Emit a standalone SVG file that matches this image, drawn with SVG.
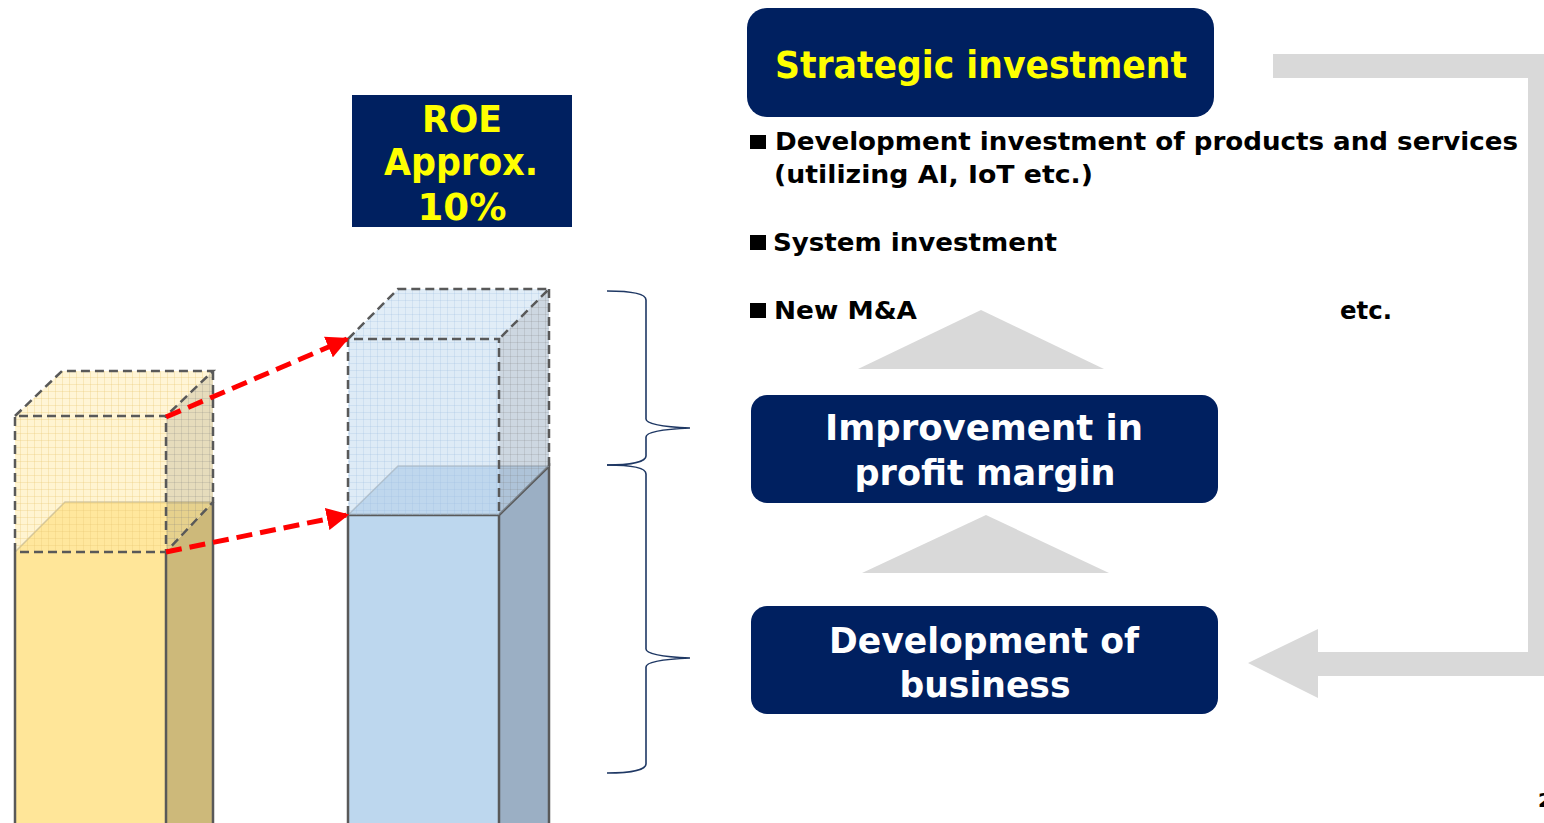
<svg xmlns="http://www.w3.org/2000/svg" width="1544" height="823" viewBox="0 0 1544 823">
<defs>
<style>
text{font-family:"DejaVu Sans","Liberation Sans",sans-serif;font-weight:bold}
.box{fill:#002060}
.yt{fill:#FFFF00;font-size:37px;text-anchor:middle}
.wt{fill:#FFFFFF;font-size:35px;text-anchor:middle}
.bt{fill:#000000;font-size:24.5px}
.grey{fill:#D9D9D9}
.edge{fill:none;stroke:#595959;stroke-width:2.5}
.dash{fill:none;stroke:#595959;stroke-width:2.5;stroke-dasharray:9 5}
.thin{fill:none;stroke:#7F7F7F;stroke-opacity:0.6;stroke-width:1.5}
.brace{fill:none;stroke:#1F3864;stroke-width:1.6}
.red{fill:none;stroke:#FF0000;stroke-width:5;stroke-dasharray:16 8}
</style>
<pattern id="gy" width="7" height="7" patternUnits="userSpaceOnUse"><path d="M6.5 0V7M0 6.5H7" stroke="#E8C870" stroke-opacity="0.3" stroke-width="1"/></pattern>
<pattern id="gb" width="7" height="7" patternUnits="userSpaceOnUse"><path d="M6.5 0V7M0 6.5H7" stroke="#9DBBE0" stroke-opacity="0.25" stroke-width="1"/></pattern>
<pattern id="gs" width="7" height="7" patternUnits="userSpaceOnUse"><path d="M6.5 0V7M0 6.5H7" stroke="#7F7F7F" stroke-opacity="0.2" stroke-width="1"/></pattern>
<marker id="ah" viewBox="0 0 10 10" refX="9" refY="5" markerWidth="4.5" markerHeight="4.5" orient="auto"><path d="M0,0 L10,5 L0,10 Z" fill="#FF0000"/></marker>
</defs>

<g id="bar-current">
<rect x="15" y="552" width="151" height="280" fill="#FFE699"/>
<polygon points="166,552 213,502 213,832 166,832" fill="#CDB97A"/>
<polygon points="15,552 65,502 213,502 166,552" fill="#FFE8A0"/>
<path class="edge" d="M15,552V823M166,552V823M213,502V823"/>
<path class="thin" d="M15,552L65,502H213"/>
<g id="ghost-current">
<rect x="15" y="416" width="151" height="136" fill="#FFE699" fill-opacity="0.45"/>
<rect x="15" y="416" width="151" height="136" fill="url(#gy)"/>
<polygon points="15,416 62,371 213,371 166,416" fill="#FFE699" fill-opacity="0.4"/>
<polygon points="15,416 62,371 213,371 166,416" fill="url(#gy)"/>
<polygon points="166,416 213,371 213,502 166,552" fill="#CDB97A" fill-opacity="0.5"/>
<polygon points="166,416 213,371 213,502 166,552" fill="url(#gs)"/>
<path class="dash" d="M15,552V416H166V552H15M15,416L62,371H213L166,416M213,371V502L166,552"/>
</g>
</g>

<g id="bar-target">
<rect x="348" y="515" width="151" height="320" fill="#BDD7EE"/>
<polygon points="499,515 549,466 549,835 499,835" fill="#9BAFC4"/>
<polygon points="348,515 398,466 549,466 499,515" fill="#C0D7EC"/>
<path class="edge" d="M348,823V515H499V823M499,515L549,466V823"/>
<path class="thin" d="M348,515L398,466H549"/>
<g id="ghost-target">
<rect x="348" y="339" width="151" height="176" fill="#BDD7EE" fill-opacity="0.5"/>
<rect x="348" y="339" width="151" height="176" fill="url(#gb)"/>
<polygon points="348,339 398,289 549,289 499,339" fill="#BDD7EE" fill-opacity="0.45"/>
<polygon points="348,339 398,289 549,289 499,339" fill="url(#gb)"/>
<polygon points="499,339 549,289 549,466 499,515" fill="#9BAFC4" fill-opacity="0.5"/>
<polygon points="499,339 549,289 549,466 499,515" fill="url(#gs)"/>
<path class="dash" d="M348,515V339H499V515M348,339L398,289H549L499,339M549,289V466"/>
</g>
</g>

<g id="roe">
<rect x="352" y="95" width="220" height="132" class="box"/>
<text class="yt" x="462" y="132" font-size="36" textLength="80" lengthAdjust="spacingAndGlyphs">ROE</text>
<text class="yt" x="461" y="175" font-size="36" textLength="154" lengthAdjust="spacingAndGlyphs">Approx.</text>
<text class="yt" x="462" y="220" font-size="36" textLength="89" lengthAdjust="spacingAndGlyphs">10%</text>
</g>

<g id="strategic">
<rect x="747" y="8" width="467" height="109" rx="20" class="box"/>
<text class="yt" x="981" y="78" textLength="412" lengthAdjust="spacingAndGlyphs">Strategic investment</text>
</g>

<g id="bullets">
<rect x="750" y="135" width="16" height="14" fill="#000"/>
<text class="bt" x="775" y="150" textLength="743" lengthAdjust="spacingAndGlyphs">Development investment of products and services</text>
<text class="bt" x="774" y="183" textLength="319" lengthAdjust="spacingAndGlyphs">(utilizing AI, IoT etc.)</text>
<rect x="750" y="235" width="16" height="15" fill="#000"/>
<text class="bt" x="773" y="251" textLength="284" lengthAdjust="spacingAndGlyphs">System investment</text>
<rect x="750" y="303" width="16" height="15" fill="#000"/>
<text class="bt" x="774" y="319" textLength="143" lengthAdjust="spacingAndGlyphs">New M&amp;A</text>
<text class="bt" x="1340" y="319" textLength="52" lengthAdjust="spacingAndGlyphs">etc.</text>
</g>

<g id="improvement">
<rect x="751" y="395" width="467" height="108" rx="16" class="box"/>
<text class="wt" x="984" y="440" textLength="318" lengthAdjust="spacingAndGlyphs">Improvement in</text>
<text class="wt" x="985" y="485" textLength="261" lengthAdjust="spacingAndGlyphs">profit margin</text>
</g>

<g id="development">
<rect x="751" y="606" width="467" height="108" rx="16" class="box"/>
<text class="wt" x="984" y="653" textLength="310" lengthAdjust="spacingAndGlyphs">Development of</text>
<text class="wt" x="985" y="697" textLength="171" lengthAdjust="spacingAndGlyphs">business</text>
</g>

<g id="page">
<text x="1538" y="807" font-size="20" fill="#000">2</text>
</g>

<g id="connectors">
<polygon class="grey" points="981,310 1104,369 858,369"/>
<polygon class="grey" points="986,515 1109,573 862,573"/>
<polygon class="grey" points="1273,54 1552,54 1552,676 1318,676 1318,698 1248,663 1318,629 1318,652 1528,652 1528,78 1273,78"/>
<path class="brace" d="M607,291C630,291 646,293 646,300L646,419C646,425 668,427 690,428C668,429 646,431 646,437L646,456C646,462 630,465 607,465"/>
<path class="brace" d="M607,465C630,465 646,467 646,474L646,649C646,655 668,657 690,658C668,659 646,661 646,667L646,764C646,770 630,773 607,773"/>
<line class="red" x1="166" y1="417" x2="347" y2="339" marker-end="url(#ah)"/>
<line class="red" x1="166" y1="552" x2="347" y2="515" marker-end="url(#ah)"/>
</g>
</svg>
